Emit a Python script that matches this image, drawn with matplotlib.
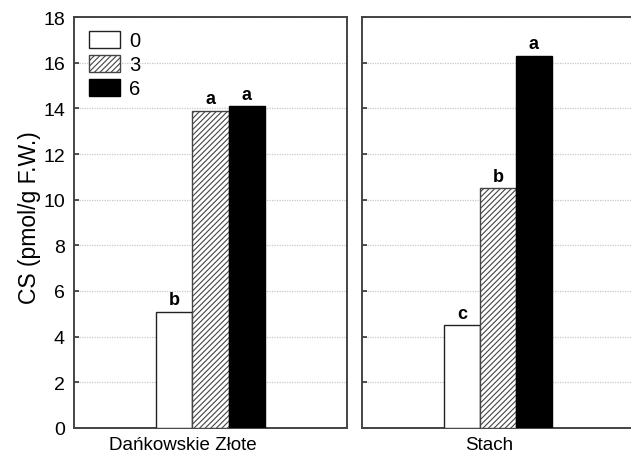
import matplotlib
matplotlib.use("Agg")
import matplotlib.pyplot as plt
from matplotlib.patches import Patch

plt.rcParams['font.family'] = ['Liberation Sans', 'DejaVu Sans']
plt.rcParams['hatch.linewidth'] = 0.8

cultivars = ["Dańkowskie Złote", "Stach"]
series = ["0", "3", "6"]
values = {
    "Dańkowskie Złote": [5.1, 13.9, 14.1],
    "Stach": [4.5, 10.5, 16.3],
}
letters = {
    "Dańkowskie Złote": ["b", "a", "a"],
    "Stach": ["c", "b", "a"],
}
yticks = [0, 2, 4, 6, 8, 10, 12, 14, 16, 18]
ylabel = "CS (pmol/g F.W.)"

W, H = 631, 456
fig = plt.figure(figsize=(W / 100, H / 100), dpi=100)

def px_axes(x0, x1, ytop, ybot):
    return fig.add_axes([x0 / W, (H - ybot) / H, (x1 - x0) / W, (ybot - ytop) / H])

ax1 = px_axes(74, 347, 18, 429)
ax2 = px_axes(362, 634, 18, 429)

styles = [
    dict(facecolor="white", edgecolor="#222222", hatch=None),
    dict(facecolor="white", edgecolor="#444444", hatch="//////"),
    dict(facecolor="black", edgecolor="black", hatch=None),
]
bw = 0.132
offsets = [-bw, 0, bw]
label_x = [0.40, 0.469]

for ax, cv, lx in zip([ax1, ax2], cultivars, label_x):
    ax.set_xlim(0, 1)
    ax.set_ylim(0, 18)
    ax.set_yticks(yticks)
    ax.yaxis.grid(True, linestyle=(0, (1, 1)), color="#c8c8c8", linewidth=0.9)
    ax.set_axisbelow(True)
    for i, (v, s) in enumerate(zip(values[cv], styles)):
        ax.bar(0.5 + offsets[i], v, width=bw, linewidth=1.0, zorder=3, **s)
        ax.text(0.5 + offsets[i], v + 0.15, letters[cv][i], ha="center", va="bottom",
                fontsize=13, fontweight="bold")
    ax.set_xticks([lx])
    ax.set_xticklabels([cv], fontsize=13.5)
    ax.tick_params(axis="x", length=0, pad=6)
    ax.tick_params(axis="y", direction="in", length=3.5, width=1.2, color="#333333")
    for sp in ax.spines.values():
        sp.set_color("#444444")
        sp.set_linewidth(1.4)

ax1.set_yticklabels([str(t) for t in yticks], fontsize=14)
ax1.tick_params(axis="y", pad=6.5)
ax2.set_yticklabels([])
fig.text(30 / W, (H - 218) / H, ylabel, rotation=90, ha="center", va="center",
         fontsize=16.5)

handles = [Patch(**s, linewidth=1.0) for s in styles]
ax1.legend(handles, series, loc="upper left", frameon=False, fontsize=14.5,
           handlelength=1.55, handleheight=0.95, labelspacing=0.22,
           handletextpad=0.45, borderpad=0.0, borderaxespad=0.0,
           bbox_to_anchor=(0.055, 0.967))

fig.savefig("out.png", dpi=100)
